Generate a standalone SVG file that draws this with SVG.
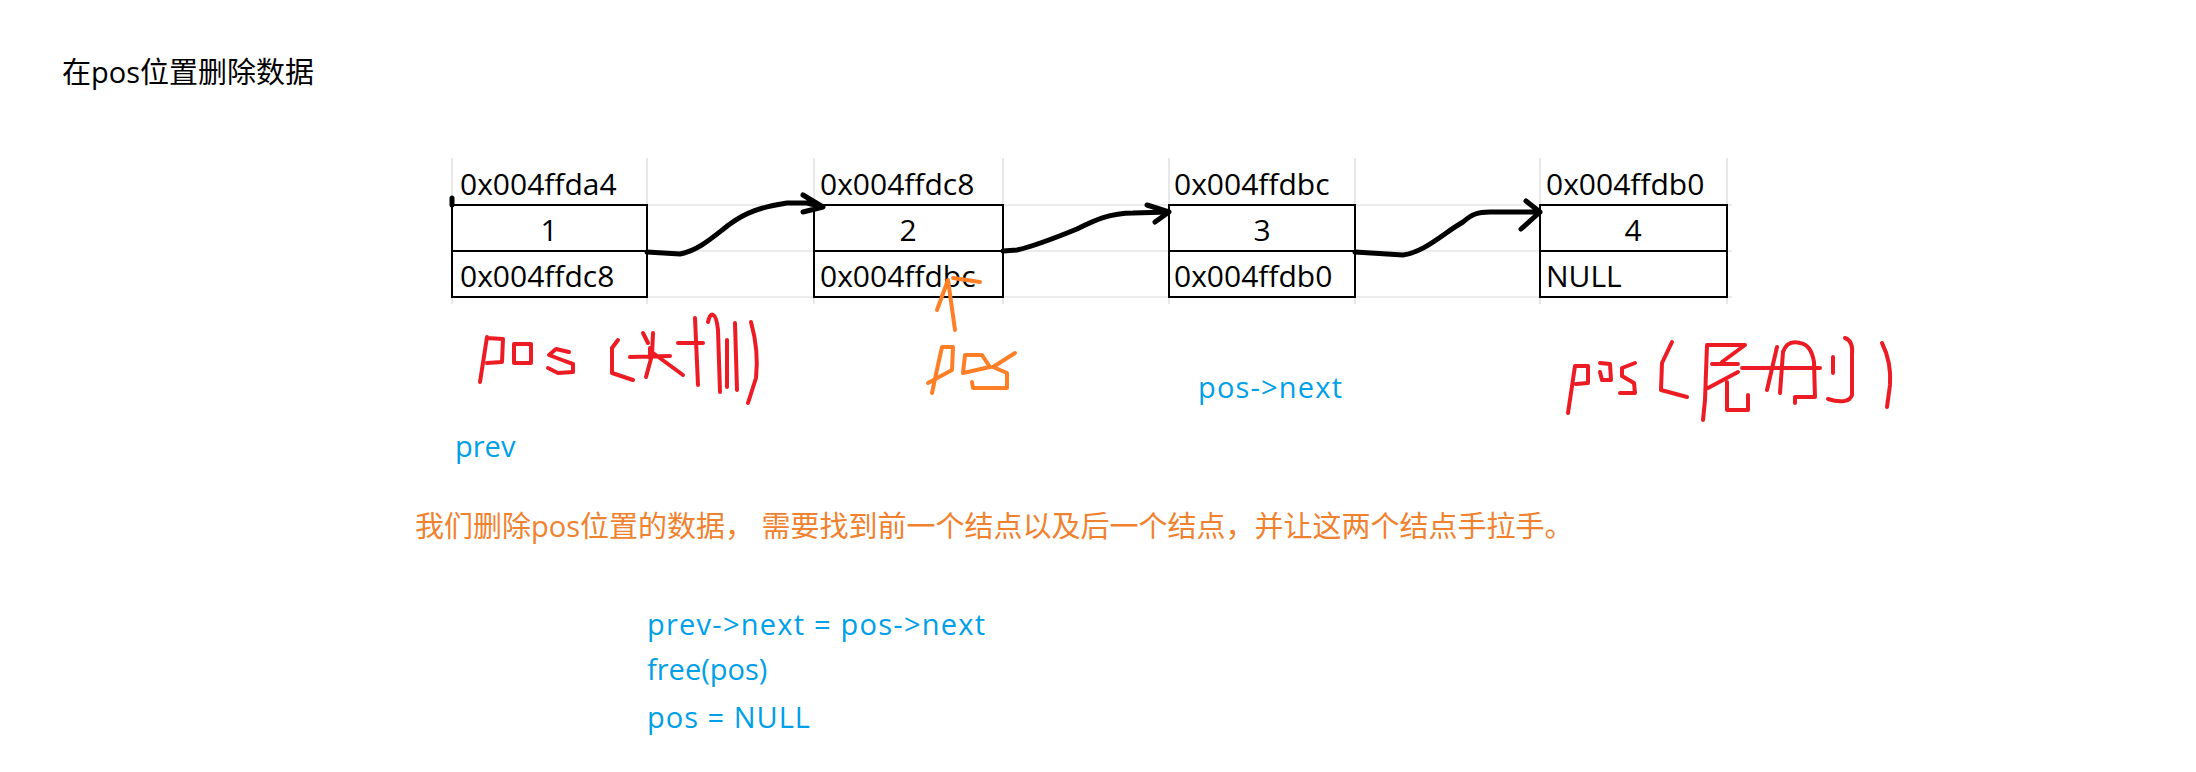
<svg xmlns="http://www.w3.org/2000/svg" width="2196" height="772" viewBox="0 0 2196 772">
<style>
.cell{font-family:"Open Sans","Noto Sans",sans-serif;font-size:30px;fill:#000}
.val{text-anchor:middle}
.box{fill:none;stroke:#000;stroke-width:2}
.grid{stroke:#d9d9d9;stroke-width:1.2;fill:none}
.title{font-family:"Open Sans","Noto Sans CJK SC",sans-serif;font-size:29px;fill:#000}
.blue{font-family:"Open Sans","Noto Sans CJK SC",sans-serif;font-size:29px;fill:#00a0e9}
.orange{font-family:"Open Sans","Noto Sans CJK SC",sans-serif;font-size:29px;fill:#f0822f}
.arrow{fill:none;stroke:#000;stroke-width:5;stroke-linecap:round;stroke-linejoin:round}
.red{fill:none;stroke:#ed1c24;stroke-width:4;stroke-linecap:round;stroke-linejoin:round}
.org{fill:none;stroke:#ff7f27;stroke-width:4;stroke-linecap:round;stroke-linejoin:round}
</style>
<rect width="2196" height="772" fill="#fff"/>
<text class="title" x="62" y="83">在pos位置删除数据</text>
<g id="grid">
<path class="grid" d="M452,205H1732M452,251H1732M452,297H1732"/>
<path class="grid" d="M452,158V304M647,158V304M814,158V304M1003,158V304M1169,158V304M1355,158V304M1540,158V304M1727,158V304"/>
</g>
<g id="node1">
<rect class="box" x="452" y="205" width="195" height="92"/>
<line class="box" x1="452" y1="251" x2="647" y2="251"/>
<text class="cell" x="460" y="195">0x004ffda4</text>
<text class="cell val" x="549" y="241">1</text>
<text class="cell" x="460" y="287">0x004ffdc8</text>
</g>
<g id="node2">
<rect class="box" x="814" y="205" width="189" height="92"/>
<line class="box" x1="814" y1="251" x2="1003" y2="251"/>
<text class="cell" x="820" y="195">0x004ffdc8</text>
<text class="cell val" x="908" y="241">2</text>
<text class="cell" x="820" y="287">0x004ffdbc</text>
</g>
<g id="node3">
<rect class="box" x="1169" y="205" width="186" height="92"/>
<line class="box" x1="1169" y1="251" x2="1355" y2="251"/>
<text class="cell" x="1174" y="195">0x004ffdbc</text>
<text class="cell val" x="1262" y="241">3</text>
<text class="cell" x="1174" y="287">0x004ffdb0</text>
</g>
<g id="node4">
<rect class="box" x="1540" y="205" width="187" height="92"/>
<line class="box" x1="1540" y1="251" x2="1727" y2="251"/>
<text class="cell" x="1546" y="195">0x004ffdb0</text>
<text class="cell val" x="1633" y="241">4</text>
<text class="cell" x="1546" y="287">NULL</text>
</g>
<g id="connectors">
<path class="arrow" d="M452,198V205" stroke-width="3"/>
<path class="arrow" d="M647,252 L680,254 C700,250 715,235 730,224 C745,213 760,207 787,203 L807,203 L823,207 M803,195 L823,207 L803,212"/>
<path class="arrow" d="M1003,251 L1017,250 C1035,246 1055,238 1077,229 C1095,220 1110,213 1133,213 L1169,212 M1147,205 L1169,212 L1155,222"/>
<path class="arrow" d="M1355,252 L1403,255 C1425,252 1445,232 1463,222 C1472,214 1478,212 1490,212 L1540,212 M1526,201 L1540,212 L1521,229"/>
</g>
<g id="handwriting-head">
<path class="red" d="M487,337 L480,382 M487,338 L503,339 L502,362 L487,363"/>
<path class="red" d="M514,344 L531,344 L531,363 L514,363 Z"/>
<path class="red" d="M569,352 L556,349 L549,355 L562,360 L573,364 L573,372 L558,373 L548,368"/>
<path class="red" d="M618,340 L612,348 L612,373 L633,380"/>
<path class="red" d="M643,333 L648,343 M650,348 L650,358 M630,357 L670,356 M653,333 L652,355 L646,377 M653,353 L683,375"/>
<path class="red" d="M695,318 L698,385 M678,343 L703,343 M708,322 C710,312 716,310 718,330 L720,392 M727,340 L727,387 M735,323 L737,390"/>
<path class="red" d="M751,322 C756,340 758,360 756,378 L748,403"/>
</g>
<g id="handwriting-tail">
<path class="red" d="M1575,366 L1568,413 M1575,366 L1588,366 L1588,383 L1576,384"/>
<path class="red" d="M1600,363 L1610,364 L1611,380 L1602,380 L1600,372"/>
<path class="red" d="M1635,363 L1622,368 L1622,376 L1634,383 L1635,393 L1620,393"/>
<path class="red" d="M1672,342 L1662,363 L1661,390 L1687,397"/>
<path class="red" d="M1707,345 L1745,345 L1722,362 M1712,364 L1738,364 M1707,345 L1705,400 L1703,420 M1708,388 L1738,372 M1727,382 L1727,410 L1748,410 L1748,395"/>
<path class="red" d="M1742,368 L1820,368 M1777,347 L1767,390 M1780,393 L1783,352 C1786,343 1792,341 1800,343 C1808,344 1812,350 1814,362 L1815,397 L1795,397 L1795,403"/>
<path class="red" d="M1833,357 L1833,373 M1845,338 C1851,340 1853,345 1852,355 L1852,395 C1850,402 1840,403 1828,399"/>
<path class="red" d="M1882,343 C1888,355 1891,370 1890,385 L1887,407"/>
</g>
<g id="handwriting-pos">
<path class="org" d="M955,330 L948,280 L937,310 M953,278 L980,282"/>
<path class="org" d="M932,393 L938,365 L942,347 L953,347 L952,370 L928,383"/>
<path class="org" d="M965,355 L982,355 L990,367 L963,373 L965,355 M1015,353 L993,367 L1007,373 L1007,388 L973,388 L972,382"/>
</g>
<text class="blue" x="1198" y="398" textLength="144" lengthAdjust="spacing">pos-&gt;next</text>
<text class="blue" x="455" y="457">prev</text>
<text class="orange" x="415" y="537">我们删除pos位置的数据， 需要找到前一个结点以及后一个结点，并让这两个结点手拉手。</text>
<text class="blue" x="647" y="635" textLength="338" lengthAdjust="spacing">prev-&gt;next = pos-&gt;next</text>
<text class="blue" x="647" y="680">free(pos)</text>
<text class="blue" x="647" y="728" textLength="163" lengthAdjust="spacing">pos = NULL</text>
</svg>
